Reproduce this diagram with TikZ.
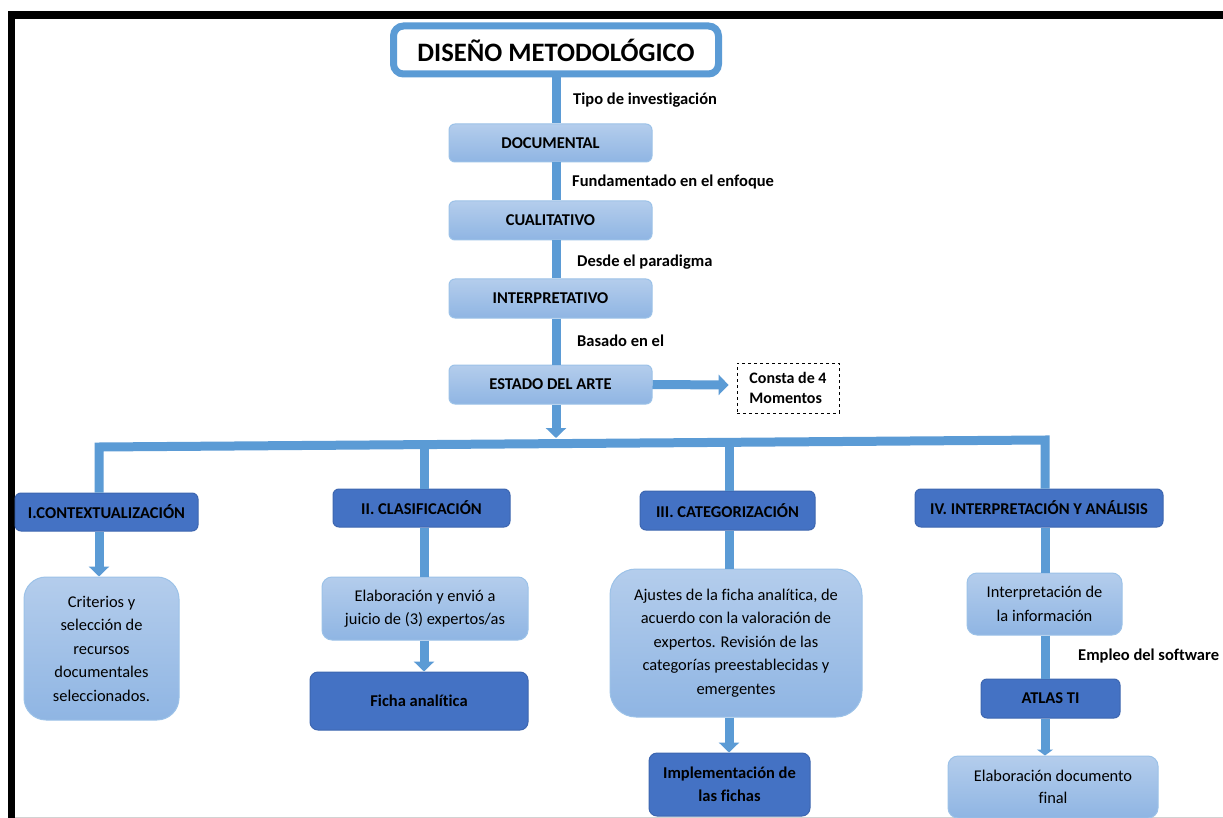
\documentclass[tikz,border=0pt]{standalone}
\usepackage{fontspec}
\setmainfont{Carlito}[Ligatures=CommonOff]
\usetikzlibrary{arrows.meta,calc}
\definecolor{connc}{HTML}{5B9BD5}
\definecolor{lighttop}{HTML}{B4CDEC}
\definecolor{lightbot}{HTML}{8FB5E3}
\definecolor{lightedge}{HTML}{9CC2E8}
\definecolor{darkfill}{HTML}{4472C4}
\definecolor{darkedge}{HTML}{3D66B0}
\begin{document}
\begin{tikzpicture}[x=1pt,y=-1pt,
  connline/.style={draw=connc, line width=9pt},
  connarrow/.style={connline, -{Triangle[width=20pt,length=10pt]}},
  lightbox/.style={draw=lightedge, line width=1pt, top color=lighttop, bottom color=lightbot,
     rounded corners=6pt, inner sep=0pt, align=center, font=\fontsize{16.4}{23.5}\selectfont},
  bigbox/.style={lightbox, rounded corners=22pt},
  toprow/.style={lightbox, font=\fontsize{16.5}{19}\selectfont\bfseries},
  darkbox/.style={draw=darkedge, line width=1pt, fill=darkfill, rounded corners=6pt,
     inner sep=0pt, align=center, font=\fontsize{16.5}{23}\selectfont\bfseries},
  lbl/.style={anchor=west, inner sep=0pt, font=\fontsize{16.5}{19}\selectfont\bfseries},
  notebox/.style={draw=black, dashed, line width=0.8pt, inner sep=0pt, align=left,
     font=\fontsize{16}{20}\selectfont\bfseries}
]
\useasboundingbox (0,0) rectangle (1223,818);
\fill[white] (0,0) rectangle (1223,818);
% frame
\fill[black] (8,11) rectangle (1223,19);
\fill[black] (8,11) rectangle (15,818);
\draw[gray!35, line width=1pt] (15,817) -- (1223,817);

% title and main column
\node[draw=connc, line width=7pt, fill=white, rounded corners=10pt, minimum width=325, minimum height=48,
      font=\fontsize{26.6}{30}\selectfont\bfseries] (title) at (556,50) {DISEÑO METODOLÓGICO};
\node[toprow, minimum width=203, minimum height=38] (doc) at (550.5,143) {DOCUMENTAL};
\node[toprow, minimum width=203, minimum height=39] (cual) at (550.5,220.5) {CUALITATIVO};
\node[toprow, minimum width=203, minimum height=39] (interp) at (550.5,298.5) {INTERPRETATIVO};
\node[toprow, minimum width=203, minimum height=39] (estado) at (550.5,384.5) {ESTADO DEL ARTE};

\draw[connline] (title.south) -- (title.south |- doc.north);
\draw[connline] (title.south |- doc.south) -- (title.south |- cual.north);
\draw[connline] (title.south |- cual.south) -- (title.south |- interp.north);
\draw[connline] (title.south |- interp.south) -- (title.south |- estado.north);

\node[lbl] (l1) at (573,100) {Tipo de investigación};
\node[lbl] (l2) at (572,182) {Fundamentado en el enfoque};
\node[lbl] (l3) at (577,262) {Desde el paradigma};
\node[lbl] (l4) at (577,341) {Basado en el};

\node[notebox, minimum width=102, minimum height=50] (consta) at (788,388)
  {Consta de 4\\Momentos};
\draw[connarrow] (estado.east) -- ($(consta.west)+(-8,-3)$);

% distribution bar
\coordinate (bl) at (99,447);
\coordinate (br) at (1045,440);
\coordinate (b2) at (424,444.6);
\coordinate (b3) at (729,442.3);
\coordinate (bm) at (556,438);
\draw[connarrow] (title.south |- estado.south) -- (bm);

% phase boxes
\node[darkbox, minimum width=183, minimum height=38] (ci) at (106.5,512) {I.CONTEXTUALIZACIÓN};
\node[darkbox, minimum width=177, minimum height=38] (cii) at (421.5,508) {II. CLASIFICACIÓN};
\node[darkbox, minimum width=175, minimum height=39] (ciii) at (727.5,510.5) {III. CATEGORIZACIÓN};
\node[darkbox, minimum width=248, minimum height=38] (civ) at (1039,508) {IV. INTERPRETACIÓN Y ANÁLISIS};

\draw[connline, line join=miter] (bl |- ci.north) -- (bl) -- (br) -- (br |- civ.north);
\draw[connline] (b2) -- (b2 |- cii.north);
\draw[connline] (b3) -- (b3 |- ciii.north);

% second level
\node[bigbox, minimum width=155, minimum height=143] (crit) at (101.5,648.5)
  {Criterios y\\selección de\\recursos\\documentales\\seleccionados.};
\node[lightbox, rounded corners=10pt, minimum width=206, minimum height=63] (elab) at (425,608.5)
  {Elaboración y envió a\\juicio de (3) expertos/as};
\node[darkbox, rounded corners=8pt, minimum width=218, minimum height=58] (ficha) at (419,701) {Ficha analítica};
\node[bigbox, rounded corners=26pt, minimum width=252, minimum height=148] (ajus) at (736,643)
  {Ajustes de la ficha analítica, de\\acuerdo con la valoración de\\expertos. Revisión de las\\categorías preestablecidas y\\emergentes};
\node[darkbox, rounded corners=8pt, minimum width=161, minimum height=63] (impl) at (729.5,784.5)
  {Implementación de\\las fichas};
\node[lightbox, rounded corners=10pt, minimum width=155, minimum height=62] (intinf) at (1044.5,604)
  {Interpretación de\\la información};
\node[darkbox, minimum width=139, minimum height=39] (atlas) at (1050.5,698.5) {ATLAS TI};
\node[lightbox, rounded corners=10pt, minimum width=210, minimum height=62, font=\fontsize{16.4}{22}\selectfont] (final) at (1053,787)
  {Elaboración documento\\final};
\node[lbl] (l5) at (1078,656) {Empleo del software};

\draw[connarrow] (bl |- ci.south) -- (bl |- crit.north);
\draw[connline] (b2 |- cii.south) -- (b2 |- elab.north);
\draw[connarrow] (b2 |- elab.south) -- (b2 |- ficha.north);
\draw[connline] (b3 |- ciii.south) -- (b3 |- ajus.north);
\draw[connarrow] (b3 |- ajus.south) -- (b3 |- impl.north);
\draw[connline] (br |- civ.south) -- (br |- intinf.north);
\draw[connline] (br |- intinf.south) -- (br |- atlas.north);
\draw[draw=connc, line width=9pt, -{Triangle[width=16pt,length=6pt]}] (br |- atlas.south) -- (br |- final.north);
\end{tikzpicture}
\end{document}
